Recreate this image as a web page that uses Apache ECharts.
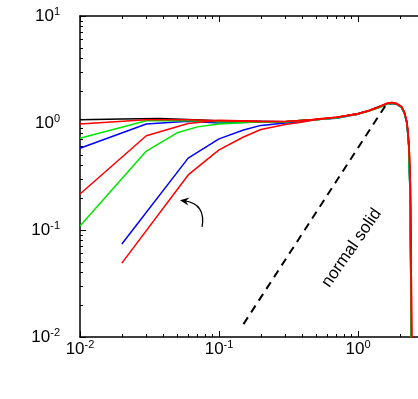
<!DOCTYPE html>
<html>
<head>
<meta charset="utf-8">
<script src="https://cdn.jsdelivr.net/npm/echarts@6/dist/echarts.min.js"></script>
<style>
    html, body { margin: 0; padding: 0; background: #fff; }
    #figure { width: 418px; height: 399px; }
</style>
</head>
<body>
<div id="figure"></div>
<script>
    // axis ranges and tick exponents
    const xMin = 0.01, xMax = 2.7;
    const yMin = 0.01, yMax = 10;
    const xTickExp = [-2, -1, 0];
    const yTickExp = [-2, -1, 0, 1];

    // curves
    const blackX = [0.01, 0.02, 0.037, 0.06, 0.1, 0.2, 0.3, 0.4, 0.5, 0.7, 1.0, 1.2, 1.4, 1.6, 1.75, 1.9, 2.05, 2.15, 2.25, 2.32, 2.36, 2.39, 2.42];
    const blackY = [1.07, 1.09, 1.1, 1.08, 1.05, 1.04, 1.03, 1.06, 1.08, 1.12, 1.23, 1.31, 1.41, 1.5, 1.53, 1.51, 1.4, 1.26, 1.0, 0.6, 0.25, 0.05, 0.005];

    const red1X = [0.01, 0.03, 0.06, 0.1, 0.2, 0.3, 0.4, 0.5, 0.7, 1.0, 1.2, 1.4, 1.6, 1.75, 1.9, 2.05, 2.15, 2.25, 2.33, 2.38, 2.41, 2.44];
    const red1Y = [0.98, 1.07, 1.07, 1.05, 1.03, 1.04, 1.05, 1.09, 1.13, 1.21, 1.3, 1.4, 1.52, 1.55, 1.5, 1.42, 1.27, 1.02, 0.62, 0.27, 0.06, 0.005];

    const green1X = [0.01, 0.03, 0.06, 0.1, 0.2, 0.3, 0.4, 0.5, 0.7, 1.0, 1.2, 1.4, 1.6, 1.75, 1.9, 2.05, 2.15, 2.25, 2.32, 2.36, 2.39, 2.42];
    const green1Y = [0.72, 1.05, 1.05, 1.03, 1.02, 1.03, 1.06, 1.07, 1.12, 1.22, 1.29, 1.39, 1.49, 1.53, 1.5, 1.41, 1.25, 0.99, 0.6, 0.24, 0.05, 0.005];

    const blue1X = [0.01, 0.03, 0.06, 0.1, 0.2, 0.3, 0.4, 0.5, 0.7, 1.0, 1.2, 1.4, 1.6, 1.75, 1.9, 2.05, 2.15, 2.25, 2.32, 2.36, 2.39, 2.42];
    const blue1Y = [0.58, 0.98, 1.04, 1.0, 1.02, 1.02, 1.05, 1.08, 1.11, 1.21, 1.3, 1.4, 1.5, 1.52, 1.49, 1.4, 1.24, 0.98, 0.58, 0.23, 0.05, 0.005];

    const red2X = [0.01, 0.03, 0.06, 0.1, 0.2, 0.3, 0.4, 0.5, 0.7, 1.0, 1.2, 1.4, 1.6, 1.75, 1.9, 2.05, 2.15, 2.25, 2.33, 2.38, 2.41, 2.44];
    const red2Y = [0.217, 0.76, 0.99, 1.06, 1.04, 1.03, 1.06, 1.08, 1.13, 1.22, 1.31, 1.41, 1.51, 1.55, 1.52, 1.43, 1.27, 1.01, 0.62, 0.26, 0.06, 0.005];

    const green2X = [0.01, 0.03, 0.05, 0.07, 0.1, 0.2, 0.3, 0.4, 0.5, 0.7, 1.0, 1.2, 1.4, 1.6, 1.75, 1.9, 2.05, 2.15, 2.25, 2.32, 2.36, 2.39, 2.42];
    const green2Y = [0.109, 0.547, 0.81, 0.92, 0.98, 1.03, 1.02, 1.05, 1.07, 1.12, 1.21, 1.3, 1.39, 1.5, 1.54, 1.5, 1.41, 1.25, 1.0, 0.59, 0.24, 0.05, 0.005];

    const blue3X = [0.02, 0.06, 0.1, 0.15, 0.2, 0.3, 0.4, 0.5, 0.7, 1.0, 1.2, 1.4, 1.6, 1.75, 1.9, 2.05, 2.15, 2.25, 2.32, 2.37, 2.4, 2.43];
    const blue3Y = [0.074, 0.47, 0.71, 0.86, 0.95, 1.0, 1.04, 1.07, 1.12, 1.22, 1.3, 1.39, 1.5, 1.53, 1.5, 1.41, 1.25, 0.99, 0.6, 0.24, 0.05, 0.005];

    const red4X = [0.02, 0.06, 0.1, 0.15, 0.2, 0.3, 0.4, 0.5, 0.7, 1.0, 1.2, 1.4, 1.6, 1.75, 1.9, 2.05, 2.15, 2.25, 2.33, 2.38, 2.41, 2.44];
    const red4Y = [0.049, 0.327, 0.56, 0.74, 0.87, 0.97, 1.02, 1.08, 1.13, 1.23, 1.31, 1.41, 1.52, 1.56, 1.52, 1.43, 1.28, 1.02, 0.62, 0.26, 0.06, 0.005];

    // dashed reference line
    const dashX = [0.15, 1.6];
    const dashY = [0.0132, 1.5];

    const curves = [
        {x: blackX, y: blackY, color: '#000000'},
        {x: blue1X, y: blue1Y, color: '#0000ff'},
        {x: blue3X, y: blue3Y, color: '#0000ff'},
        {x: green1X, y: green1Y, color: '#00e600'},
        {x: green2X, y: green2Y, color: '#00e600'},
        {x: red1X, y: red1Y, color: '#ff0000'},
        {x: red2X, y: red2Y, color: '#ff0000'},
        {x: red4X, y: red4Y, color: '#ff0000'}
    ];

    function zip(xs, ys) {
        return xs.map((v, i) => [v, ys[i]]);
    }

    function minorTicks(lo, hi) {
        const out = [];
        for (let d = Math.floor(lo); d <= Math.ceil(hi); d++) {
            for (let k = 2; k <= 9; k++) {
                const v = d + Math.log10(k);
                if (v > lo && v < hi) out.push(v);
            }
        }
        return out;
    }

    const xLo = Math.log10(xMin), xHi = Math.log10(xMax);
    const yLo = Math.log10(yMin), yHi = Math.log10(yMax);

    const font = '"Liberation Sans", Arial, sans-serif';
    const rich = {
        b: {fontSize: 17, fontFamily: font, color: '#000', lineHeight: 20},
        s: {fontSize: 11, fontFamily: font, color: '#000', lineHeight: 20, verticalAlign: 'top'}
    };
    const fmt = v => '{b|10}{s|' + Math.round(v) + '}';

    function tickAxis(pos, lo, hi, ticks, len, opts) {
        return Object.assign({
            type: 'value', min: lo, max: hi, position: pos,
            axisLine: {show: false, onZero: false},
            axisTick: {show: true, inside: true, length: len, customValues: ticks,
                lineStyle: {color: '#000', width: 1}},
            axisLabel: {show: false},
            splitLine: {show: false}
        }, opts || {});
    }

    const lineStyleFrame = {show: true, onZero: false, lineStyle: {color: '#000', width: 1.5}};

    const figure = echarts.init(document.getElementById('figure'), null, {renderer: 'canvas'});
    figure.setOption({
        animation: false,
        backgroundColor: '#fff',
        grid: {left: 80, right: 0, top: 16, bottom: 62, containLabel: false, outerBoundsMode: 'none'},
        xAxis: [
            {type: 'log', logBase: 10, min: xMin, max: xMax, show: false},
            tickAxis('bottom', xLo, xHi, xTickExp, 6, {
                axisLine: lineStyleFrame,
                axisLabel: {show: true, customValues: xTickExp, formatter: fmt, rich: rich, margin: 2}
            }),
            tickAxis('bottom', xLo, xHi, minorTicks(xLo, xHi), 3),
            tickAxis('top', xLo, xHi, xTickExp, 6, {axisLine: lineStyleFrame}),
            tickAxis('top', xLo, xHi, minorTicks(xLo, xHi), 3)
        ],
        yAxis: [
            {type: 'log', logBase: 10, min: yMin, max: yMax, show: false},
            tickAxis('left', yLo, yHi, yTickExp, 6, {
                axisLine: lineStyleFrame,
                axisLabel: {show: true, customValues: yTickExp, formatter: fmt, rich: rich, margin: 20}
            }),
            tickAxis('left', yLo, yHi, minorTicks(yLo, yHi), 3)
        ],
        series: curves.map(c => ({
            type: 'line',
            xAxisIndex: 0,
            yAxisIndex: 0,
            data: zip(c.x, c.y),
            symbol: 'none',
            clip: true,
            lineStyle: {color: c.color, width: 1.5}
        })).concat([{
            type: 'line',
            xAxisIndex: 0,
            yAxisIndex: 0,
            data: zip(dashX, dashY),
            symbol: 'none',
            lineStyle: {color: '#000', width: 2, type: [8, 6]}
        }])
    });

    // annotations anchored in data space
    const textAt = figure.convertToPixel({xAxisIndex: 0, yAxisIndex: 0}, [0.9, 0.068]);
    const tail = figure.convertToPixel({xAxisIndex: 0, yAxisIndex: 0}, [0.0755, 0.107]);
    const head = figure.convertToPixel({xAxisIndex: 0, yAxisIndex: 0}, [0.0524, 0.19]);
    const cp = [tail[0] + 4, head[1] + 4];
    const dx = head[0] - cp[0], dy = head[1] - cp[1];
    const dl = Math.sqrt(dx * dx + dy * dy);
    const ux = dx / dl, uy = dy / dl;
    const hl = 9, hw = 4;

    figure.setOption({
        graphic: [
            {
                type: 'text',
                x: textAt[0], y: textAt[1],
                rotation: 55 * Math.PI / 180,
                style: {
                    text: 'normal solid',
                    font: '17px ' + font,
                    fill: '#000',
                    align: 'center',
                    verticalAlign: 'middle'
                }
            },
            {
                type: 'bezierCurve',
                shape: {x1: tail[0], y1: tail[1], cpx1: cp[0], cpy1: cp[1],
                    x2: head[0] - ux * 5, y2: head[1] - uy * 5},
                style: {stroke: '#000', lineWidth: 1.3, fill: null}
            },
            {
                type: 'polygon',
                shape: {points: [
                    [head[0], head[1]],
                    [head[0] - ux * hl - uy * hw, head[1] - uy * hl + ux * hw],
                    [head[0] - ux * 6, head[1] - uy * 6],
                    [head[0] - ux * hl + uy * hw, head[1] - uy * hl - ux * hw]
                ]},
                style: {fill: '#000'}
            }
        ]
    });
</script>
</body>
</html>
